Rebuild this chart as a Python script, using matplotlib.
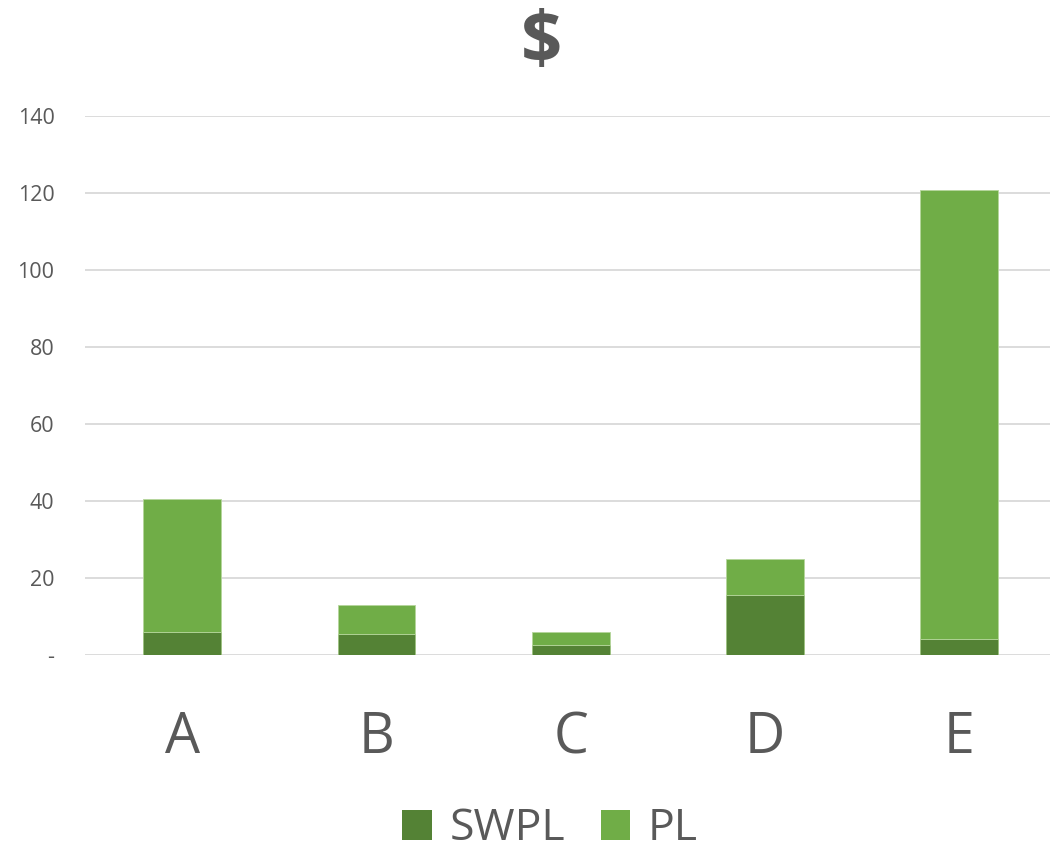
import matplotlib
matplotlib.use("Agg")
import matplotlib.pyplot as plt
from matplotlib.patches import Patch
from matplotlib.ticker import FixedLocator, FuncFormatter

categories = ["A", "B", "C", "D", "E"]
swpl = [5.9, 5.4, 2.4, 15.6, 4.2]
pl_total = [40.4, 13.0, 5.8, 24.8, 120.7]
pl = [t - s for t, s in zip(pl_total, swpl)]
y_ticks = [0, 20, 40, 60, 80, 100, 120, 140]

dark_green = "#548235"
light_green = "#70AD47"
text_color = "#595959"
grid_color = "#D9D9D9"

plt.rcParams["font.family"] = ["Open Sans", "DejaVu Sans"]

W, H = 1051, 851
fig = plt.figure(figsize=(W / 100, H / 100), dpi=100)
ax = fig.add_axes([85 / W, (H - 654.7) / H, 965 / W, (654.7 - 116.0) / H])

x = list(range(len(categories)))
ax.bar(x, swpl, width=0.4, color=dark_green, edgecolor="#9cc27f", linewidth=0.6, zorder=3)
ax.bar(x, pl, bottom=swpl, width=0.4, color=light_green, edgecolor="#b5d69c", linewidth=0.6, zorder=3)

ax.set_xlim(-0.5, -0.5 + 965 / 194.3)
ax.set_ylim(0, 140)
ax.yaxis.set_major_locator(FixedLocator(y_ticks))
ax.yaxis.set_major_formatter(FuncFormatter(lambda v, p: "-" if v == 0 else f"{int(v)}"))
ax.grid(axis="y", color=grid_color, linewidth=1.3, zorder=0)
for s in ax.spines.values():
    s.set_visible(False)
ax.tick_params(axis="y", length=0, pad=22, labelsize=15.5, labelcolor=text_color)
ax.set_xticks(x)
ax.set_xticklabels(categories)
ax.tick_params(axis="x", length=0, pad=40, labelsize=40, labelcolor=text_color)

fig.text(542 / W, 1 - 44 / H, "$", ha="center", va="center", fontsize=52,
         fontweight="bold", color=text_color)

handles = [Patch(facecolor=dark_green, label="SWPL"), Patch(facecolor=light_green, label="PL")]
fig.legend(handles=handles, ncol=2, frameon=False, loc="center",
           bbox_to_anchor=(550 / W, 1 - 829 / H), bbox_transform=fig.transFigure,
           fontsize=32, labelcolor=text_color, handlelength=0.66, handleheight=0.66,
           handletextpad=0.4, columnspacing=0.8, borderpad=0)

fig.savefig("out.png", dpi=100)
